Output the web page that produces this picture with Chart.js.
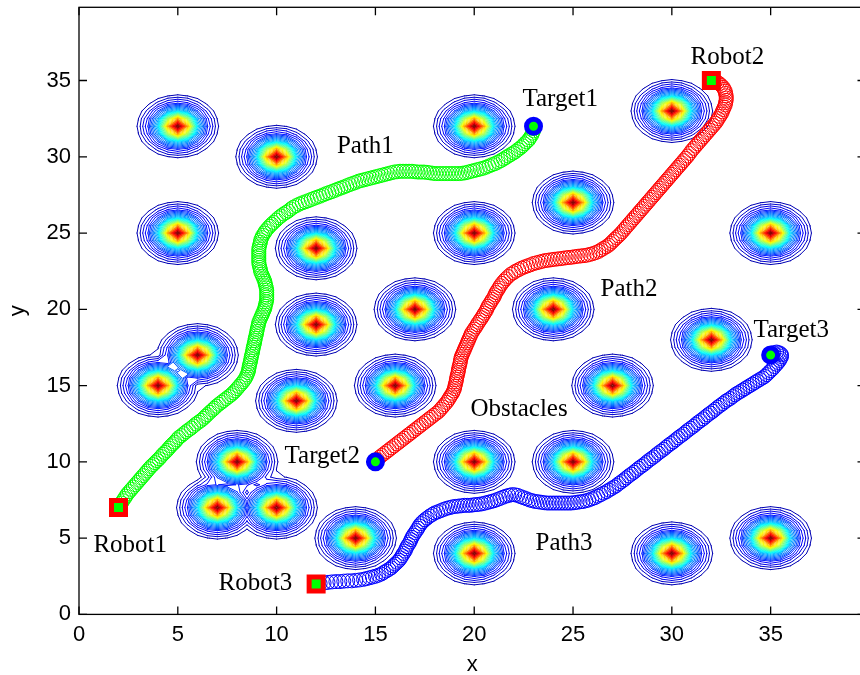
<!DOCTYPE html>
<html>
<head>
<meta charset="utf-8">
<title>Multi-robot path planning</title>
<script src="https://cdn.jsdelivr.net/npm/chart.js@4.4.1/dist/chart.umd.min.js"></script>
<style>
  html, body { margin: 0; padding: 0; background: #ffffff; overflow: hidden; }
  canvas { display: block; }
</style>
</head>
<body>
<canvas id="plot" width="870" height="675"></canvas>
<script>
// ---- obstacle centres (potential peaks) ----
const obstacleX = [5, 10, 20, 30, 5, 12, 20, 25, 35, 12, 17, 24, 32, 4, 6, 11, 16, 27, 8, 20, 25, 7, 10, 14, 20, 30, 35];
const obstacleY = [32, 30, 32, 33, 25, 24, 25, 27, 25, 19, 20, 20, 18, 15, 17, 14, 15, 15, 10, 10, 10, 7, 7, 5, 4, 4, 5];
const obstacleCore = 0.8;      // half-width of each obstacle peak
const obstacleReach = 2.05;    // radius of the outermost contour
const contourLevelCount = 40;
const fieldExtent = 40;
const fieldStep = 0.5;

// ---- robot start and goal positions ----
const robotPos = [[2, 7], [32, 35], [12, 2]];
const targetPos = [[23, 32], [15, 10], [35, 17]];

// ---- planned paths ----
const path1 = [
  [2.0,7.0],[2.07,7.15],[2.15,7.3],[2.22,7.45],[2.3,7.6],[2.37,7.75],[2.45,7.9],[2.55,8.05],[2.65,8.2],
  [2.75,8.35],[2.85,8.5],[2.95,8.65],[3.05,8.8],[3.15,8.95],[3.25,9.1],[3.35,9.25],[3.45,9.4],[3.55,9.55],
  [3.65,9.7],[3.75,9.82],[3.85,9.95],[3.95,10.08],[4.05,10.2],[4.15,10.35],[4.25,10.5],[4.35,10.62],
  [4.45,10.75],[4.55,10.9],[4.65,11.05],[4.75,11.18],[4.85,11.3],[4.95,11.45],[5.05,11.6],[5.18,11.72],
  [5.3,11.85],[5.42,11.98],[5.55,12.1],[5.68,12.22],[5.8,12.35],[5.92,12.48],[6.05,12.6],[6.18,12.72],
  [6.3,12.85],[6.4,12.98],[6.5,13.1],[6.62,13.25],[6.75,13.4],[6.85,13.52],[6.95,13.65],[7.08,13.78],
  [7.2,13.9],[7.32,14.02],[7.45,14.15],[7.58,14.28],[7.7,14.4],[7.8,14.52],[7.9,14.65],[8.0,14.8],
  [8.1,14.95],[8.2,15.1],[8.3,15.25],[8.38,15.4],[8.45,15.55],[8.5,15.7],[8.55,15.85],[8.58,16.0],
  [8.6,16.15],[8.62,16.3],[8.65,16.45],[8.68,16.6],[8.7,16.75],[8.72,16.9],[8.75,17.05],[8.78,17.2],
  [8.8,17.35],[8.82,17.5],[8.85,17.65],[8.88,17.8],[8.9,17.95],[8.92,18.1],[8.95,18.25],[8.98,18.4],
  [9.0,18.55],[9.02,18.7],[9.05,18.85],[9.08,19.0],[9.1,19.15],[9.15,19.3],[9.2,19.45],[9.25,19.6],
  [9.3,19.75],[9.35,19.9],[9.4,20.05],[9.42,20.2],[9.45,20.35],[9.48,20.5],[9.5,20.65],[9.5,20.8],
  [9.5,20.95],[9.5,21.1],[9.5,21.25],[9.48,21.4],[9.45,21.55],[9.42,21.7],[9.4,21.85],[9.35,22.0],
  [9.3,22.15],[9.25,22.3],[9.2,22.45],[9.18,22.6],[9.15,22.75],[9.12,22.9],[9.1,23.05],[9.1,23.2],
  [9.1,23.35],[9.1,23.5],[9.1,23.65],[9.1,23.8],[9.1,23.95],[9.12,24.1],[9.15,24.25],[9.18,24.4],
  [9.2,24.55],[9.25,24.7],[9.3,24.85],[9.38,25.0],[9.45,25.15],[9.55,25.3],[9.65,25.45],[9.75,25.58],
  [9.85,25.7],[9.98,25.85],[10.1,26.0],[10.22,26.12],[10.35,26.25],[10.48,26.35],[10.6,26.45],
  [10.72,26.58],[10.85,26.7],[11.0,26.8],[11.15,26.9],[11.3,26.98],[11.45,27.05],[11.6,27.12],
  [11.75,27.2],[11.9,27.28],[12.05,27.35],[12.2,27.42],[12.35,27.5],[12.5,27.58],[12.65,27.65],
  [12.8,27.72],[12.95,27.8],[13.1,27.88],[13.25,27.95],[13.4,28.02],[13.55,28.1],[13.7,28.18],
  [13.85,28.25],[14.0,28.32],[14.15,28.4],[14.3,28.45],[14.45,28.5],[14.6,28.55],[14.75,28.6],
  [14.9,28.65],[15.05,28.7],[15.2,28.75],[15.35,28.8],[15.5,28.85],[15.65,28.9],[15.8,28.95],
  [15.95,29.0],[16.1,29.02],[16.25,29.05],[16.4,29.05],[16.55,29.05],[16.7,29.05],[16.85,29.05],
  [17.0,29.02],[17.15,29.0],[17.3,29.0],[17.45,29.0],[17.6,28.98],[17.75,28.95],[17.9,28.92],
  [18.05,28.9],[18.2,28.9],[18.35,28.9],[18.5,28.9],[18.65,28.9],[18.8,28.9],[18.95,28.9],[19.1,28.9],
  [19.25,28.9],[19.4,28.92],[19.55,28.95],[19.7,29.0],[19.85,29.05],[20.0,29.1],[20.15,29.15],
  [20.3,29.2],[20.45,29.25],[20.6,29.32],[20.75,29.4],[20.9,29.48],[21.05,29.55],[21.2,29.65],
  [21.35,29.75],[21.48,29.85],[21.6,29.95],[21.72,30.05],[21.85,30.15],[21.98,30.25],[22.1,30.35],
  [22.22,30.48],[22.35,30.6],[22.45,30.72],[22.55,30.85],[22.65,30.98],[22.75,31.1],[22.82,31.25],
  [22.9,31.4],[22.95,31.55],[23.0,31.7],[23.0,31.85],[23.0,32.0]
];
const path2 = [
  [15.0,10.0],[15.1,10.15],[15.2,10.3],[15.32,10.42],[15.45,10.55],[15.58,10.68],[15.7,10.8],
  [15.82,10.92],[15.95,11.05],[16.08,11.18],[16.2,11.3],[16.32,11.42],[16.45,11.55],[16.58,11.68],
  [16.7,11.8],[16.82,11.92],[16.95,12.05],[17.08,12.18],[17.2,12.3],[17.32,12.42],[17.45,12.55],
  [17.58,12.68],[17.7,12.8],[17.82,12.92],[17.95,13.05],[18.08,13.18],[18.2,13.3],[18.3,13.45],
  [18.4,13.6],[18.5,13.75],[18.6,13.9],[18.68,14.05],[18.75,14.2],[18.82,14.35],[18.9,14.5],
  [18.95,14.65],[19.0,14.8],[19.02,14.95],[19.05,15.1],[19.08,15.25],[19.1,15.4],[19.12,15.55],
  [19.15,15.7],[19.18,15.85],[19.2,16.0],[19.22,16.15],[19.25,16.3],[19.28,16.45],[19.3,16.6],
  [19.32,16.75],[19.35,16.9],[19.4,17.05],[19.45,17.2],[19.5,17.35],[19.55,17.5],[19.6,17.65],
  [19.65,17.8],[19.7,17.95],[19.75,18.1],[19.8,18.25],[19.85,18.4],[19.92,18.55],[20.0,18.7],
  [20.08,18.85],[20.15,19.0],[20.22,19.15],[20.3,19.3],[20.38,19.45],[20.45,19.6],[20.52,19.75],
  [20.6,19.9],[20.65,20.05],[20.7,20.2],[20.78,20.35],[20.85,20.5],[20.92,20.65],[21.0,20.8],
  [21.05,20.95],[21.1,21.1],[21.18,21.25],[21.25,21.4],[21.32,21.55],[21.4,21.7],[21.5,21.85],
  [21.6,22.0],[21.72,22.15],[21.85,22.3],[21.98,22.4],[22.1,22.5],[22.25,22.6],[22.4,22.7],
  [22.55,22.78],[22.7,22.85],[22.85,22.92],[23.0,23.0],[23.15,23.05],[23.3,23.1],[23.45,23.15],
  [23.6,23.2],[23.75,23.22],[23.9,23.25],[24.05,23.28],[24.2,23.3],[24.35,23.32],[24.5,23.35],
  [24.65,23.38],[24.8,23.4],[24.95,23.42],[25.1,23.45],[25.25,23.48],[25.4,23.5],[25.55,23.52],
  [25.7,23.55],[25.85,23.6],[26.0,23.65],[26.15,23.72],[26.3,23.8],[26.42,23.9],[26.55,24.0],
  [26.68,24.1],[26.8,24.2],[26.9,24.32],[27.0,24.45],[27.1,24.58],[27.2,24.7],[27.3,24.82],
  [27.4,24.95],[27.5,25.1],[27.6,25.25],[27.7,25.4],[27.8,25.55],[27.9,25.7],[28.0,25.85],
  [28.1,26.0],[28.2,26.15],[28.3,26.3],[28.4,26.45],[28.5,26.6],[28.6,26.75],[28.7,26.9],
  [28.8,27.05],[28.9,27.2],[29.0,27.35],[29.1,27.5],[29.2,27.65],[29.3,27.8],[29.4,27.95],
  [29.5,28.1],[29.6,28.25],[29.7,28.4],[29.8,28.55],[29.9,28.7],[30.0,28.85],[30.1,29.0],
  [30.2,29.15],[30.3,29.3],[30.4,29.45],[30.5,29.6],[30.6,29.75],[30.7,29.9],[30.8,30.05],
  [30.9,30.22],[31.0,30.4],[31.1,30.55],[31.2,30.7],[31.3,30.85],[31.4,31.0],[31.5,31.15],
  [31.6,31.3],[31.7,31.45],[31.8,31.6],[31.9,31.75],[32.0,31.9],[32.1,32.05],[32.2,32.2],
  [32.28,32.35],[32.35,32.5],[32.42,32.65],[32.5,32.8],[32.55,32.95],[32.6,33.1],[32.65,33.25],
  [32.7,33.4],[32.72,33.55],[32.75,33.7],[32.75,33.85],[32.75,34.0],[32.72,34.15],[32.7,34.3],
  [32.65,34.42],[32.6,34.55],[32.5,34.68],[32.4,34.8],[32.3,34.88],[32.2,34.95],[32.1,34.98],[32.0,35.0]
];
const path3 = [
  [12.0,2.0],[12.2,2.03],[12.4,2.06],[12.6,2.1],[12.8,2.13],[13.0,2.15],[13.2,2.15],[13.4,2.18],
  [13.6,2.2],[13.8,2.2],[14.0,2.23],[14.2,2.26],[14.4,2.3],[14.55,2.35],[14.7,2.4],[14.85,2.45],
  [15.0,2.5],[15.15,2.57],[15.3,2.65],[15.42,2.75],[15.55,2.85],[15.68,2.95],[15.8,3.05],[15.9,3.18],
  [16.0,3.3],[16.1,3.42],[16.2,3.55],[16.28,3.7],[16.35,3.85],[16.42,4.0],[16.5,4.15],[16.55,4.3],
  [16.6,4.45],[16.68,4.6],[16.75,4.75],[16.8,4.9],[16.85,5.05],[16.92,5.2],[17.0,5.35],[17.08,5.5],
  [17.15,5.65],[17.22,5.8],[17.3,5.95],[17.4,6.08],[17.5,6.2],[17.62,6.32],[17.75,6.45],[17.88,6.55],
  [18.0,6.65],[18.15,6.72],[18.3,6.8],[18.45,6.88],[18.6,6.95],[18.75,7.0],[18.9,7.05],[19.05,7.08],
  [19.2,7.1],[19.35,7.12],[19.5,7.15],[19.65,7.15],[19.8,7.15],[19.95,7.18],[20.1,7.2],[20.25,7.22],
  [20.4,7.25],[20.55,7.3],[20.7,7.35],[20.85,7.4],[21.0,7.45],[21.15,7.52],[21.3,7.6],[21.45,7.68],
  [21.6,7.75],[21.75,7.8],[21.9,7.85],[22.05,7.84],[22.2,7.8],[22.35,7.72],[22.5,7.65],[22.65,7.58],
  [22.8,7.5],[22.95,7.45],[23.1,7.4],[23.25,7.38],[23.4,7.35],[23.55,7.32],[23.7,7.3],[23.85,7.3],
  [24.0,7.3],[24.15,7.3],[24.3,7.3],[24.45,7.3],[24.6,7.3],[24.75,7.3],[24.9,7.3],[25.05,7.32],
  [25.2,7.35],[25.35,7.38],[25.5,7.4],[25.65,7.45],[25.8,7.5],[25.95,7.58],[26.1,7.65],[26.25,7.75],
  [26.4,7.85],[26.55,7.95],[26.7,8.05],[26.82,8.15],[26.95,8.25],[27.08,8.35],[27.2,8.45],[27.32,8.58],
  [27.45,8.7],[27.58,8.82],[27.7,8.95],[27.82,9.08],[27.95,9.2],[28.08,9.32],[28.2,9.45],[28.32,9.58],
  [28.45,9.7],[28.58,9.82],[28.7,9.95],[28.82,10.08],[28.95,10.2],[29.08,10.32],[29.2,10.45],
  [29.32,10.58],[29.45,10.7],[29.58,10.82],[29.7,10.95],[29.82,11.08],[29.95,11.2],[30.08,11.32],
  [30.2,11.45],[30.32,11.58],[30.45,11.7],[30.58,11.82],[30.7,11.95],[30.82,12.08],[30.95,12.2],
  [31.08,12.32],[31.2,12.45],[31.32,12.58],[31.45,12.7],[31.58,12.82],[31.7,12.95],[31.82,13.08],
  [31.95,13.2],[32.08,13.32],[32.2,13.45],[32.32,13.58],[32.45,13.7],[32.58,13.82],[32.7,13.95],
  [32.82,14.05],[32.95,14.15],[33.08,14.28],[33.2,14.4],[33.32,14.5],[33.45,14.6],[33.58,14.7],
  [33.7,14.8],[33.82,14.9],[33.95,15.0],[34.08,15.1],[34.2,15.2],[34.32,15.3],[34.45,15.4],
  [34.58,15.5],[34.7,15.6],[34.8,15.72],[34.9,15.85],[35.0,15.98],[35.1,16.1],[35.2,16.25],
  [35.3,16.4],[35.38,16.52],[35.45,16.65],[35.5,16.78],[35.55,16.9],[35.55,17.02],[35.5,17.1],
  [35.4,17.16],[35.3,17.2],[35.15,17.16],[35.0,17.1]
];

// ---- annotations: text, x, y (baseline, data units) ----
const annotationText = ['Robot1', 'Robot2', 'Robot3', 'Target1', 'Target2', 'Target3', 'Path1', 'Path2', 'Path3', 'Obstacles'];
const annotationX = [0.73, 30.95, 7.06, 22.44, 10.4, 34.13, 13.05, 26.39, 23.1, 19.81];
const annotationY = [4.11, 36.11, 1.6, 33.3, 9.92, 18.2, 30.22, 20.86, 4.22, 13.0];

// ---- axes ----
const tickValues = [0, 5, 10, 15, 20, 25, 30, 35];
const axisMin = 0;
const axisMax = 39.8;
const xTitle = 'x';
const yTitle = 'y';

const toPoints = arr => arr.map(([x, y]) => ({ x, y }));

function jet(t) {
  const c = v => Math.max(0, Math.min(1, v));
  const r = c(1.5 - Math.abs(4 * t - 3));
  const g = c(1.5 - Math.abs(4 * t - 2));
  const b = c(1.5 - Math.abs(4 * t - 1));
  return `rgb(${Math.round(r * 255)},${Math.round(g * 255)},${Math.round(b * 255)})`;
}

// Obstacle potential: one peak per obstacle, strongest peak wins.
function potential(gx, gy) {
  let v = 0;
  const a2 = obstacleCore * obstacleCore;
  for (let k = 0; k < obstacleX.length; k++) {
    const dx = gx - obstacleX[k], dy = gy - obstacleY[k];
    v = Math.max(v, 1 / (1 + (dx * dx + dy * dy) / a2));
  }
  return v;
}

// Potential sampled on a regular grid, contoured with marching squares.
const contourPlugin = {
  id: 'obstacleContours',
  beforeDatasetsDraw(chart) {
    const { ctx, chartArea, scales: { x, y } } = chart;
    const n = Math.round(fieldExtent / fieldStep) + 1;
    const F = [];
    for (let j = 0; j < n; j++) {
      const row = new Float64Array(n);
      for (let i = 0; i < n; i++) row[i] = potential(i * fieldStep, j * fieldStep);
      F.push(row);
    }
    const px = new Float64Array(n), py = new Float64Array(n);
    for (let i = 0; i < n; i++) { px[i] = x.getPixelForValue(i * fieldStep); py[i] = y.getPixelForValue(i * fieldStep); }

    const lowLevel = 1 / (1 + (obstacleReach * obstacleReach) / (obstacleCore * obstacleCore));
    ctx.save();
    ctx.beginPath();
    ctx.rect(chartArea.left, chartArea.top, chartArea.right - chartArea.left, chartArea.bottom - chartArea.top);
    ctx.clip();
    ctx.lineWidth = 1;
    ctx.lineCap = 'round';
    for (let k = 0; k < contourLevelCount; k++) {
      const L = lowLevel + (1 - lowLevel) * k / contourLevelCount;
      ctx.strokeStyle = jet(0.05 + 0.95 * k / (contourLevelCount - 1));
      ctx.beginPath();
      for (let j = 0; j < n - 1; j++) {
        for (let i = 0; i < n - 1; i++) {
          const a = F[j][i], b = F[j][i + 1], c = F[j + 1][i + 1], d = F[j + 1][i];
          const sa = a >= L, sb = b >= L, sc = c >= L, sd = d >= L;
          if (sa === sb && sb === sc && sc === sd) continue;
          const x0 = px[i], x1 = px[i + 1], y0 = py[j], y1 = py[j + 1];
          const pts = {};
          if (sa !== sb) pts.bottom = [x0 + (x1 - x0) * (L - a) / (b - a), y0];
          if (sb !== sc) pts.right = [x1, y0 + (y1 - y0) * (L - b) / (c - b)];
          if (sd !== sc) pts.top = [x0 + (x1 - x0) * (L - d) / (c - d), y1];
          if (sa !== sd) pts.left = [x0, y0 + (y1 - y0) * (L - a) / (d - a)];
          const keys = Object.keys(pts);
          const seg = (p, q) => { ctx.moveTo(p[0], p[1]); ctx.lineTo(q[0], q[1]); };
          if (keys.length === 2) {
            seg(pts[keys[0]], pts[keys[1]]);
          } else if (keys.length === 4) {
            const centerAbove = (a + b + c + d) / 4 >= L;
            if (sa !== centerAbove) { seg(pts.bottom, pts.left); seg(pts.right, pts.top); }
            else { seg(pts.bottom, pts.right); seg(pts.top, pts.left); }
          }
        }
      }
      ctx.stroke();
    }
    ctx.restore();
  }
};

const annotationPlugin = {
  id: 'annotations',
  afterDatasetsDraw(chart) {
    const { ctx, scales: { x, y } } = chart;
    ctx.save();
    ctx.fillStyle = '#000000';
    ctx.font = '25px "Liberation Serif", "Times New Roman", serif';
    ctx.textAlign = 'left';
    ctx.textBaseline = 'alphabetic';
    annotationText.forEach((t, i) => {
      ctx.fillText(t, x.getPixelForValue(annotationX[i]), y.getPixelForValue(annotationY[i]));
    });
    ctx.restore();
  }
};

const boxPlugin = {
  id: 'axesBox',
  afterDraw(chart) {
    const { ctx, chartArea: { left, right, top, bottom }, scales: { x, y } } = chart;
    const tl = 8;
    ctx.save();
    ctx.strokeStyle = '#000000';
    ctx.lineWidth = 1.3;
    ctx.strokeRect(left, top, right - left, bottom - top);
    ctx.beginPath();
    x.ticks.forEach(t => {
      const p = x.getPixelForValue(t.value);
      ctx.moveTo(p, bottom); ctx.lineTo(p, bottom - tl);
      ctx.moveTo(p, top); ctx.lineTo(p, top + tl);
    });
    y.ticks.forEach(t => {
      const p = y.getPixelForValue(t.value);
      ctx.moveTo(left, p); ctx.lineTo(left + tl, p);
      ctx.moveTo(right, p); ctx.lineTo(right - tl, p);
    });
    ctx.stroke();
    ctx.restore();
  }
};

const tickFont = { family: '"Liberation Sans", Arial, sans-serif', size: 22 };
const pathMarker = color => ({
  pointStyle: 'circle', pointRadius: 7, pointBorderWidth: 1,
  pointBorderColor: color, pointBackgroundColor: 'rgba(0,0,0,0)'
});

new Chart(document.getElementById('plot'), {
  type: 'scatter',
  data: {
    datasets: [
      {
        label: 'Robots', data: toPoints(robotPos), order: 0,
        pointStyle: 'rect', pointRadius: 9.9, pointBorderWidth: 5,
        pointBorderColor: '#ff0000', pointBackgroundColor: '#00ff00'
      },
      {
        label: 'Targets', data: toPoints(targetPos), order: 0,
        pointStyle: 'circle', pointRadius: 7, pointBorderWidth: 5,
        pointBorderColor: '#0000ff', pointBackgroundColor: '#00ff00'
      },
      { label: 'Path1', data: toPoints(path1), order: 1, ...pathMarker('#00ff00') },
      { label: 'Path2', data: toPoints(path2), order: 1, ...pathMarker('#ff0000') },
      { label: 'Path3', data: toPoints(path3), order: 1, ...pathMarker('#0000ff') }
    ]
  },
  options: {
    responsive: false,
    devicePixelRatio: 1,
    animation: false,
    events: [],
    layout: { autoPadding: false, padding: { top: 7.3, right: 4.5, bottom: 0, left: 0 } },
    plugins: { legend: { display: false }, tooltip: { enabled: false } },
    scales: {
      x: {
        type: 'linear', min: axisMin, max: axisMax,
        grid: { display: false, drawTicks: false },
        border: { display: false },
        afterBuildTicks: s => { s.ticks = tickValues.map(v => ({ value: v })); },
        ticks: { font: tickFont, color: '#000000', padding: 7, maxRotation: 0, includeBounds: false },
        title: { display: true, text: xTitle, font: tickFont, color: '#000000', padding: { top: 0, bottom: -3 } },
        afterFit: s => { s.height = 60.6; s.paddingLeft = 0; s.paddingRight = 0; }
      },
      y: {
        type: 'linear', min: axisMin, max: axisMax,
        grid: { display: false, drawTicks: false },
        border: { display: false },
        afterBuildTicks: s => { s.ticks = tickValues.map(v => ({ value: v })); },
        ticks: { font: tickFont, color: '#000000', padding: 8, includeBounds: false },
        title: { display: true, text: yTitle, font: tickFont, color: '#000000', padding: { top: 5, bottom: 0 } },
        afterFit: s => { s.width = 79; s.paddingTop = 0; s.paddingBottom = 0; }
      }
    }
  },
  plugins: [contourPlugin, annotationPlugin, boxPlugin]
});
</script>
</body>
</html>
